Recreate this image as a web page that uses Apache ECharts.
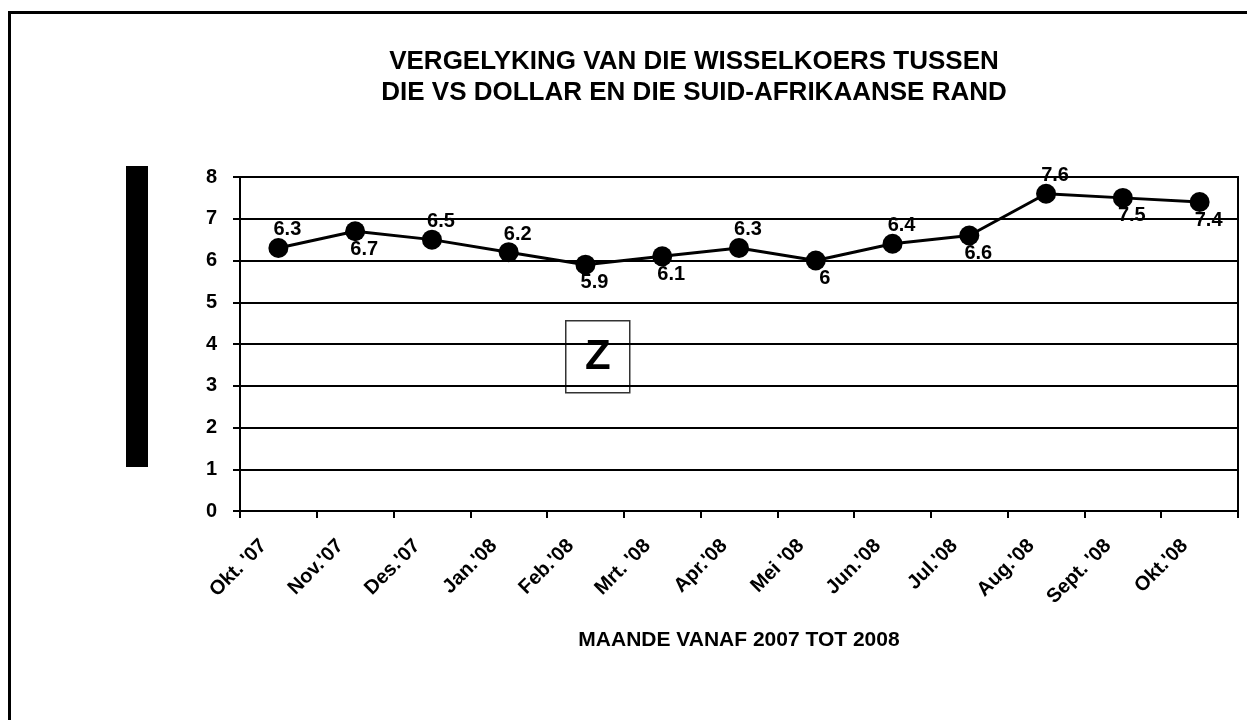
<!DOCTYPE html>
<html lang="af">
<head>
<meta charset="UTF-8">
<title>Wisselkoers</title>
<script src="https://cdn.jsdelivr.net/npm/echarts@6/dist/echarts.min.js"></script>
<style>
    * { padding: 0; margin: 0; }
    html, body { width: 1247px; height: 720px; background: #fff; overflow: hidden; }
    #chart { width: 1247px; height: 720px; }
</style>
</head>
<body>
<div id="chart"></div>
<script>
    // data
    var months = ["Okt. '07", "Nov.'07", "Des.'07", "Jan.'08", "Feb.'08", "Mrt. '08", "Apr.'08",
                  "Mei '08", "Jun.'08", "Jul.'08", "Aug.'08", "Sept. '08", "Okt.'08"];
    var rand = [6.3, 6.7, 6.5, 6.2, 5.9, 6.1, 6.3, 6, 6.4, 6.6, 7.6, 7.5, 7.4];
    var labelSide = ['above', 'below', 'above', 'above', 'below', 'below', 'above',
                     'below', 'above', 'below', 'above', 'below', 'below'];
    var yTicks = [0, 1, 2, 3, 4, 5, 6, 7, 8];

    var font = 'Liberation Sans, Arial, sans-serif';

    var seriesData = rand.map(function (v, i) {
        return {
            value: v,
            label: { offset: labelSide[i] === 'above' ? [9, -18] : [9, 18] }
        };
    });

    var chart = echarts.init(document.getElementById('chart'));
    var option = {
        backgroundColor: '#fff',
        animation: false,
        title: {
            text: 'VERGELYKING VAN DIE WISSELKOERS TUSSEN\nDIE VS DOLLAR EN DIE SUID-AFRIKAANSE RAND',
            left: 689,
            top: 41,
            textAlign: 'center',
            textStyle: { fontFamily: font, fontSize: 26, fontWeight: 'bold', color: '#000', lineHeight: 31 }
        },
        grid: {
            left: 240, right: 9, top: 177, height: 334,
            show: true, borderColor: '#000', borderWidth: 2, backgroundColor: 'transparent'
        },
        xAxis: {
            type: 'category',
            data: months,
            boundaryGap: true,
            name: 'MAANDE VANAF 2007 TOT 2008',
            nameLocation: 'middle',
            nameGap: 119,
            nameTextStyle: { fontFamily: font, fontSize: 21, fontWeight: 'bold', color: '#000' },
            axisLine: { lineStyle: { color: '#000', width: 2 } },
            axisTick: { show: true, alignWithLabel: false, length: 7, lineStyle: { color: '#000', width: 2 } },
            axisLabel: {
                rotate: 45, interval: 0, margin: 17, padding: [0, 21, 0, 0],
                fontFamily: font, fontSize: 20, fontWeight: 'bold', color: '#000'
            },
            splitLine: { show: false }
        },
        yAxis: {
            type: 'value',
            min: yTicks[0], max: yTicks[yTicks.length - 1], interval: 1,
            axisLine: { show: true, lineStyle: { color: '#000', width: 2 } },
            axisTick: { show: true, length: 7, lineStyle: { color: '#000', width: 2 } },
            axisLabel: { margin: 23, fontFamily: font, fontSize: 20, fontWeight: 'bold', color: '#000' },
            splitLine: { show: true, lineStyle: { color: '#000', width: 2 } }
        },
        series: [{
            type: 'line',
            data: seriesData,
            symbol: 'circle',
            symbolSize: 20,
            itemStyle: { color: '#000' },
            lineStyle: { color: '#000', width: 3 },
            label: {
                show: true,
                position: 'inside',
                fontFamily: font, fontSize: 20, fontWeight: 'bold', color: '#000'
            },
            z: 3
        }],
        graphic: [
            {
                // outer frame, runs off the right and bottom of the picture
                type: 'rect',
                shape: { x: 9.5, y: 12.5, width: 1260, height: 730 },
                style: { fill: 'none', stroke: '#000', lineWidth: 3 }
            },
            {
                // blacked-out y-axis title box
                type: 'rect',
                shape: { x: 126, y: 166, width: 22, height: 301 },
                style: { fill: '#000' }
            },
            {
                type: 'group',
                left: 565, top: 320,
                z: 10,
                children: [
                    {
                        type: 'rect',
                        shape: { x: 0.5, y: 0.5, width: 64, height: 72 },
                        style: { fill: '#fff', stroke: '#333', lineWidth: 1.5 }
                    },
                    {
                        type: 'text',
                        x: 32.5, y: 37,
                        style: {
                            text: 'Z', font: 'bold 42px Liberation Sans, Arial, sans-serif', fill: '#000',
                            align: 'center', verticalAlign: 'middle'
                        }
                    }
                ]
            }
        ]
    };
    chart.setOption(option);
</script>
</body>
</html>
